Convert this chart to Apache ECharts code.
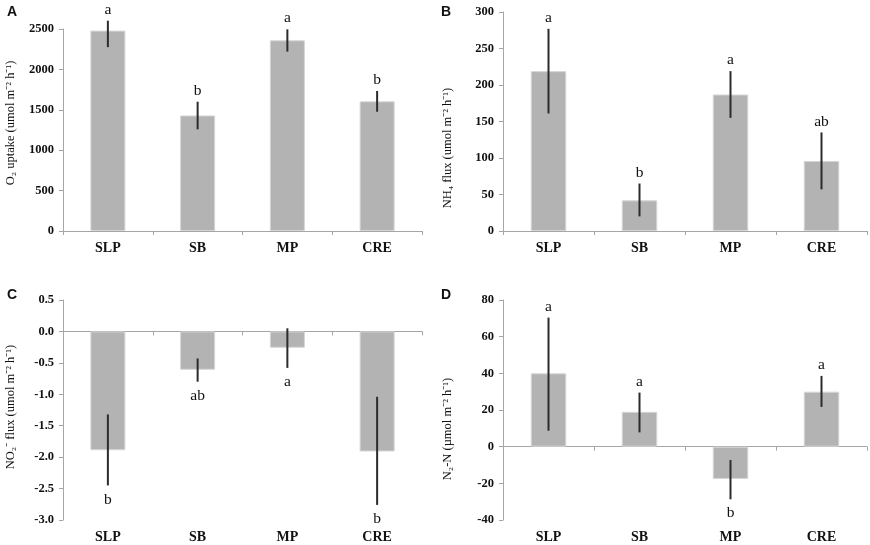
<!DOCTYPE html>
<html>
<head>
<meta charset="utf-8">
<script src="https://cdn.jsdelivr.net/npm/echarts@6/dist/echarts.min.js"></script>
<style>
  html, body { margin: 0; padding: 0; background: #fff; }
  #chart { width: 870px; height: 545px; }
</style>
</head>
<body>
<div id="chart"></div>
<script>
var categories = ['SLP', 'SB', 'MP', 'CRE']

// A: O2 uptake
var o2Mean = [2480, 1430, 2360, 1605]
var o2Low = [2275, 1258, 2220, 1476]
var o2High = [2603, 1600, 2496, 1733]
var o2Letters = ['a', 'b', 'a', 'b']

// B: NH4 flux
var nh4Mean = [219, 42, 187, 96]
var nh4Low = [161, 20, 155, 57]
var nh4High = [277, 65, 219, 135]
var nh4Letters = ['a', 'b', 'a', 'ab']

// C: NO2- flux
var no2Mean = [-1.89, -0.61, -0.26, -1.91]
var no2Low = [-2.45, -0.80, -0.58, -2.76]
var no2High = [-1.32, -0.43, 0.05, -1.04]
var no2Letters = ['b', 'ab', 'a', 'b']

// D: N2-N
var n2Mean = [40, 19, -17.6, 30]
var n2Low = [8.7, 7.8, -28.7, 21.7]
var n2High = [70.4, 29.5, -7.3, 38.6]
var n2Letters = ['a', 'a', 'b', 'a']

var panels = [
  {mean: o2Mean, low: o2Low, high: o2High, letters: o2Letters, min: 0, max: 2500, interval: 500, dec: 0},
  {mean: nh4Mean, low: nh4Low, high: nh4High, letters: nh4Letters, min: 0, max: 300, interval: 50, dec: 0},
  {mean: no2Mean, low: no2Low, high: no2High, letters: no2Letters, min: -3, max: 0.5, interval: 0.5, dec: 1},
  {mean: n2Mean, low: n2Low, high: n2High, letters: n2Letters, min: -40, max: 80, interval: 20, dec: 0}
]

var grids = [
  {left: 63, top: 29, width: 359, height: 202},
  {left: 503, top: 12, width: 364, height: 219},
  {left: 63, top: 300, width: 359, height: 220},
  {left: 503, top: 300, width: 364, height: 220}
]

var serif = 'Liberation Serif'
var axisColor = '#a6a6a6'

var xAxes = [], yAxes = [], series = []
panels.forEach(function (p, i) {
  // axis line at zero with ticks
  xAxes.push({
    type: 'category', gridIndex: i, data: categories,
    axisLine: {onZero: true, lineStyle: {color: axisColor, width: 1}},
    axisTick: {show: true, length: 4, lineStyle: {color: axisColor}},
    axisLabel: {show: false}
  })
  // labels at the bottom
  xAxes.push({
    type: 'category', gridIndex: i, data: categories, position: 'bottom',
    axisLine: {show: false, onZero: false}, axisTick: {show: false},
    axisLabel: {margin: 10, fontFamily: serif, fontSize: 14, fontWeight: 'bold', color: '#111'}
  })
  yAxes.push({
    type: 'value', gridIndex: i, min: p.min, max: p.max, interval: p.interval,
    splitLine: {show: false},
    axisLine: {show: true, lineStyle: {color: axisColor, width: 1}},
    axisTick: {show: true, length: 4, lineStyle: {color: axisColor}},
    axisLabel: {
      margin: 9, fontFamily: serif, fontSize: 12.5, fontWeight: 'bold', color: '#111',
      formatter: function (v) { return v.toFixed(p.dec) }
    }
  })
  series.push({
    type: 'bar', xAxisIndex: i * 2, yAxisIndex: i, data: p.mean,
    barWidth: '39%',
    itemStyle: {color: '#b3b3b3', borderColor: '#d6d6d6', borderWidth: 1}
  })
  var errData = p.mean.map(function (v, k) { return [k, p.low[k], p.high[k]] })
  series.push({
    type: 'custom', xAxisIndex: i * 2, yAxisIndex: i, data: errData, clip: false, z: 5,
    renderItem: function (params, api) {
      var a = api.coord([api.value(0), api.value(1)])
      var b = api.coord([api.value(0), api.value(2)])
      return {
        type: 'line',
        shape: {x1: a[0], y1: a[1], x2: b[0], y2: b[1]},
        style: {stroke: '#2b2b2b', lineWidth: 2}
      }
    }
  })
  var letterData = p.mean.map(function (v, k) { return [k, v >= 0 ? p.high[k] : p.low[k], v >= 0 ? 1 : -1] })
  series.push({
    type: 'custom', xAxisIndex: i * 2, yAxisIndex: i, data: letterData, clip: false, z: 6,
    renderItem: function (params, api) {
      var up = api.value(2) > 0
      var pt = api.coord([api.value(0), api.value(1)])
      return {
        type: 'text',
        x: pt[0], y: up ? pt[1] - 3 : pt[1] + 6,
        style: {
          text: p.letters[params.dataIndex],
          fontFamily: serif, fontSize: 15.5, fill: '#111',
          align: 'center', verticalAlign: up ? 'bottom' : 'top'
        }
      }
    }
  })
})

var titleStyle = {fontFamily: serif, fontSize: 12.5, fill: '#111', align: 'center', verticalAlign: 'middle'}
function yTitle(text, x, y) {
  return {type: 'text', x: x, y: y, rotation: Math.PI / 2, style: Object.assign({text: text}, titleStyle)}
}
function panelTag(text, x, y) {
  return {type: 'text', x: x, y: y, style: {text: text, fontFamily: 'Liberation Sans', fontWeight: 'bold', fontSize: 14, fill: '#111', align: 'center', verticalAlign: 'middle'}}
}

var chart = echarts.init(document.getElementById('chart'))
chart.setOption({
  animation: false,
  grid: grids,
  xAxis: xAxes,
  yAxis: yAxes,
  series: series,
  graphic: [
    panelTag('A', 12, 12),
    panelTag('B', 446, 12),
    panelTag('C', 12, 295),
    panelTag('D', 446, 295),
    yTitle('O\u2082 uptake (umol m\u207B\u00B2 h\u207B\u00B9)', 11, 123),
    yTitle('NH\u2084 flux (umol m\u207B\u00B2 h\u207B\u00B9)', 448, 148),
    yTitle('NO\u2082\u207B flux (umol m\u207B\u00B2 h\u207B\u00B9)', 11, 407),
    yTitle('N\u2082-N (\u00B5mol m\u207B\u00B2 h\u207B\u00B9)', 448, 429)
  ]
})
</script>
</body>
</html>
